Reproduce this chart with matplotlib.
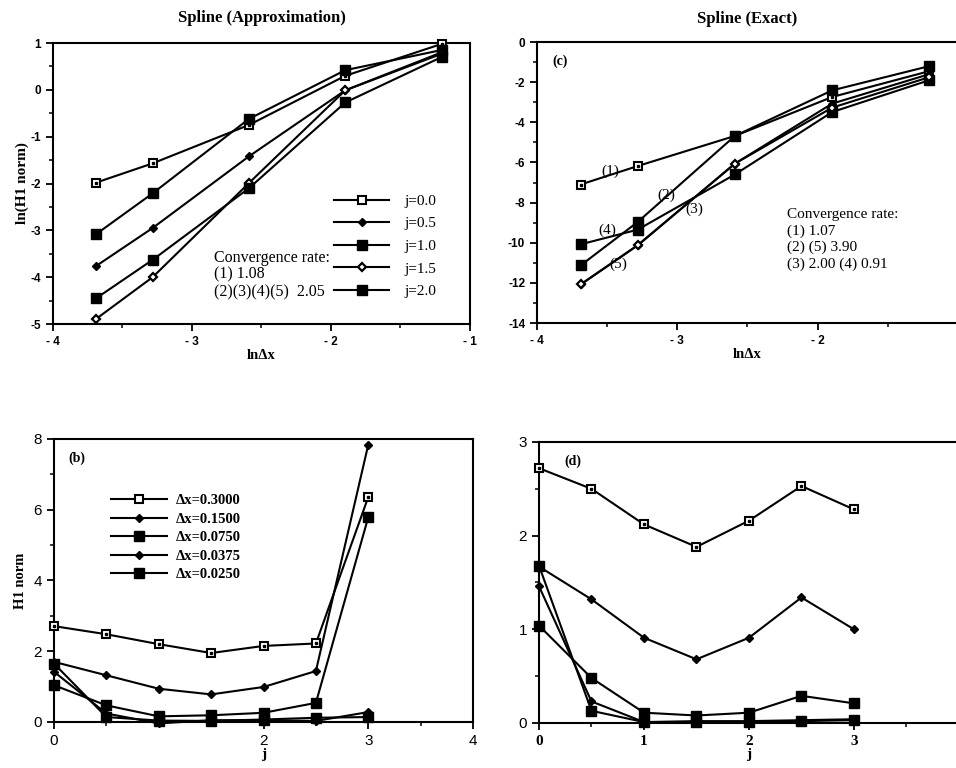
import matplotlib
matplotlib.use("Agg")
import matplotlib.pyplot as plt
from matplotlib.ticker import MultipleLocator, FixedLocator, FixedFormatter

plt.rcParams["axes.unicode_minus"] = False

# ---------------- data ----------------
ln_dx = [-3.689, -3.283, -2.590, -1.897, -1.204]

# (a) Spline approximation: ln(H1 norm) vs ln dx, for each j
a_labels = ["j=0.0", "j=0.5", "j=1.0", "j=1.5", "j=2.0"]
a_j00 = [-1.98, -1.57, -0.75, 0.30, 0.98]
a_j05 = [-3.76, -2.95, -1.42, -0.01, 0.80]
a_j10 = [-3.08, -2.21, -0.62, 0.42, 0.85]
a_j15 = [-4.89, -4.00, -1.99, -0.01, 0.77]
a_j20 = [-4.45, -3.63, -2.10, -0.27, 0.70]

# (c) Spline exact: ln(H1 norm) vs ln dx, curves (1)..(5)
c_1 = [-7.10, -6.18, -4.68, -2.74, -1.45]
c_2 = [-11.13, -8.97, -4.68, -2.41, -1.20]
c_3 = [-12.08, -10.13, -6.06, -3.07, -1.60]
c_4 = [-10.08, -9.35, -6.60, -3.49, -1.90]
c_5 = [-12.08, -10.13, -6.06, -3.27, -1.75]

# (b), (d): H1 norm vs j for each dx
j_vals = [0.0, 0.5, 1.0, 1.5, 2.0, 2.5, 3.0]
dx_labels = ["\u0394x=0.3000", "\u0394x=0.1500", "\u0394x=0.0750",
             "\u0394x=0.0375", "\u0394x=0.0250"]
b_0300 = [2.71, 2.48, 2.20, 1.95, 2.15, 2.22, 6.36]
b_0150 = [1.70, 1.32, 0.94, 0.78, 0.99, 1.44, 7.84]
b_0075 = [1.04, 0.47, 0.16, 0.19, 0.26, 0.54, 5.79]
b_00375 = [1.42, 0.24, -0.04, 0.05, 0.05, 0.03, 0.28]
b_0025 = [1.65, 0.14, 0.04, 0.03, 0.07, 0.12, 0.14]

d_0300 = [2.72, 2.50, 2.12, 1.88, 2.16, 2.53, 2.28]
d_0150 = [1.67, 1.32, 0.91, 0.68, 0.91, 1.34, 1.00]
d_0075 = [1.04, 0.48, 0.11, 0.08, 0.11, 0.29, 0.21]
d_00375 = [1.46, 0.23, 0.01, 0.02, 0.02, 0.03, 0.04]
d_0025 = [1.68, 0.13, 0.01, 0.01, 0.01, 0.02, 0.03]

# ---------------- styles ----------------
SERIF = "Liberation Serif"
SANS = "Liberation Sans"
LW = 1.5
styles = [
    dict(marker="s", ms=5.5, mfc="white", mec="black", mew=1.5),   # open square
    dict(marker="D", ms=4.5, mfc="black", mec="black", mew=1.0),   # small filled diamond
    dict(marker="s", ms=6.5, mfc="black", mec="black", mew=1.0),   # filled square
    dict(marker="D", ms=4.5, mfc="white", mec="black", mew=1.6),   # small open diamond
    dict(marker="s", ms=6.5, mfc="black", mec="black", mew=1.0),   # filled square
]


def draw(ax, x, ys, labels, sty_order=None):
    handles = []
    for k, y in enumerate(ys):
        st = styles[k if sty_order is None else sty_order[k]]
        h, = ax.plot(x, y, color="black", lw=LW, label=labels[k] if labels else None,
                     clip_on=False, zorder=3, **st)
        if st["mfc"] == "white" and st["marker"] == "s":
            ax.plot(x, y, ls="none", marker="s", ms=1.6, color="black", clip_on=False, zorder=4)
        handles.append(h)
    return handles


def frame(ax):
    for s in ax.spines.values():
        s.set_linewidth(1.5)
    ax.tick_params(which="major", direction="out", length=5, width=1.3)
    ax.tick_params(which="minor", direction="out", length=3, width=1.1)


fig = plt.figure(figsize=(9.56, 7.68), dpi=100)

# ---------- (a) ----------
axa = fig.add_axes([0.0554, 0.5781, 0.4362, 0.3659])
ha = draw(axa, ln_dx, [a_j00, a_j05, a_j10, a_j15, a_j20], a_labels)
axa.set_xlim(-4, -1)
axa.set_ylim(-5, 1)
axa.xaxis.set_major_locator(FixedLocator([-4, -3, -2, -1]))
axa.xaxis.set_major_formatter(FixedFormatter(["- 4", "- 3", "- 2", "- 1"]))
axa.xaxis.set_minor_locator(MultipleLocator(0.5))
axa.yaxis.set_major_locator(MultipleLocator(1))
axa.yaxis.set_minor_locator(MultipleLocator(0.5))
frame(axa)
for lab in axa.get_xticklabels() + axa.get_yticklabels():
    lab.set_fontfamily(SANS); lab.set_fontweight("bold"); lab.set_fontsize(8.5)
axa.set_xlabel("ln\u0394x", fontfamily=SERIF, fontweight="bold", fontsize=10.5, labelpad=1)
axa.set_ylabel("ln(H1 norm)", fontfamily=SERIF, fontweight="bold", fontsize=11, labelpad=1)
axa.set_title("Spline (Approximation)", fontfamily=SERIF, fontweight="bold", fontsize=12, pad=15)
axa.legend(handles=ha, loc="upper left", bbox_to_anchor=(0.675, 0.462), frameon=False,
           prop=dict(family=SERIF, size=11), handlelength=3.6, handletextpad=1.0,
           labelspacing=0.58, borderpad=0, borderaxespad=0)
axa.text(0.385, 0.175, "Convergence rate:\n(1) 1.08\n(2)(3)(4)(5)  2.05", transform=axa.transAxes,
         fontfamily=SERIF, fontsize=11.5, va="center", ha="left", linespacing=1.1)

# ---------- (c) ----------
axc = fig.add_axes([0.5617, 0.5794, 0.4404, 0.3659])
draw(axc, ln_dx, [c_1, c_2, c_3, c_4, c_5], None, sty_order=[0, 2, 1, 4, 3])
axc.set_xlim(-4, -1)
axc.set_ylim(-14, 0)
axc.xaxis.set_major_locator(FixedLocator([-4, -3, -2, -1]))
axc.xaxis.set_major_formatter(FixedFormatter(["- 4", "- 3", "- 2", ""]))
axc.xaxis.set_minor_locator(MultipleLocator(0.5))
axc.yaxis.set_major_locator(MultipleLocator(2))
axc.yaxis.set_minor_locator(MultipleLocator(1))
frame(axc)
for lab in axc.get_xticklabels() + axc.get_yticklabels():
    lab.set_fontfamily(SANS); lab.set_fontweight("bold"); lab.set_fontsize(8.5)
axc.set_xlabel("ln\u0394x", fontfamily=SERIF, fontweight="bold", fontsize=10.5, labelpad=1)
axc.set_title("Spline (Exact)", fontfamily=SERIF, fontweight="bold", fontsize=12, pad=14)
axc.text(0.037, 0.955, "(c)", transform=axc.transAxes, fontfamily=SERIF, fontweight="bold",
         fontsize=10, va="top")
for txt, xx, yy in [("(1)", -3.48, -6.45), ("(2)", -3.08, -7.65), ("(3)", -2.88, -8.35),
                    ("(4)", -3.5, -9.4), ("(5)", -3.42, -11.05)]:
    axc.text(xx, yy, txt, fontfamily=SERIF, fontsize=11, ha="center", va="center")
axc.text(0.595, 0.41, "Convergence rate:\n(1) 1.07\n(2) (5) 3.90\n(3) 2.00 (4) 0.91",
         transform=axc.transAxes, fontfamily=SERIF, fontsize=11, va="top", ha="left",
         linespacing=1.32)

# ---------- (b) ----------
axb = fig.add_axes([0.0565, 0.0599, 0.4383, 0.3685])
hb = draw(axb, j_vals, [b_0300, b_0150, b_0075, b_00375, b_0025], dx_labels,
          sty_order=[0, 1, 2, 1, 4])
axb.set_xlim(0, 4)
axb.set_ylim(0, 8)
axb.xaxis.set_major_locator(FixedLocator([0, 2, 3, 4]))
axb.xaxis.set_minor_locator(FixedLocator([0.5, 1, 1.5, 2.5, 3.5]))
axb.yaxis.set_major_locator(MultipleLocator(2))
axb.yaxis.set_minor_locator(MultipleLocator(1))
frame(axb)
for lab in axb.get_xticklabels() + axb.get_yticklabels():
    lab.set_fontfamily(SANS); lab.set_fontsize(11)
axb.set_xlabel("j", fontfamily=SERIF, fontweight="bold", fontsize=11, labelpad=0)
axb.set_ylabel("H1 norm", fontfamily=SERIF, fontweight="bold", fontsize=10.5, labelpad=5)
axb.text(0.035, 0.955, "(b)", transform=axb.transAxes, fontfamily=SERIF, fontweight="bold",
         fontsize=10, va="top")
axb.legend(handles=hb, loc="upper left", bbox_to_anchor=(0.135, 0.805), frameon=False,
           prop=dict(family=SERIF, size=10.5, weight="bold"), handlelength=3.9,
           handletextpad=0.6, labelspacing=0.36, borderpad=0, borderaxespad=0)

# ---------- (d) ----------
axd = fig.add_axes([0.5638, 0.0586, 0.4393, 0.3659])
draw(axd, j_vals, [d_0300, d_0150, d_0075, d_00375, d_0025], None,
     sty_order=[0, 1, 2, 1, 4])
axd.set_xlim(0, 4)
axd.set_ylim(0, 3)
axd.xaxis.set_major_locator(FixedLocator([0, 1, 2, 3, 4]))
axd.xaxis.set_major_formatter(FixedFormatter(["0", "1", "2", "3", ""]))
axd.xaxis.set_minor_locator(MultipleLocator(0.5))
axd.yaxis.set_major_locator(MultipleLocator(1))
axd.yaxis.set_minor_locator(MultipleLocator(0.5))
frame(axd)
for lab in axd.get_yticklabels():
    lab.set_fontfamily(SANS); lab.set_fontsize(11)
for lab in axd.get_xticklabels():
    lab.set_fontfamily(SERIF); lab.set_fontweight("bold"); lab.set_fontsize(11)
axd.set_xlabel("j", fontfamily=SERIF, fontweight="bold", fontsize=11, labelpad=0)
axd.text(0.06, 0.955, "(d)", transform=axd.transAxes, fontfamily=SERIF, fontweight="bold",
         fontsize=10, va="top")

fig.savefig("out.png", dpi=100)
